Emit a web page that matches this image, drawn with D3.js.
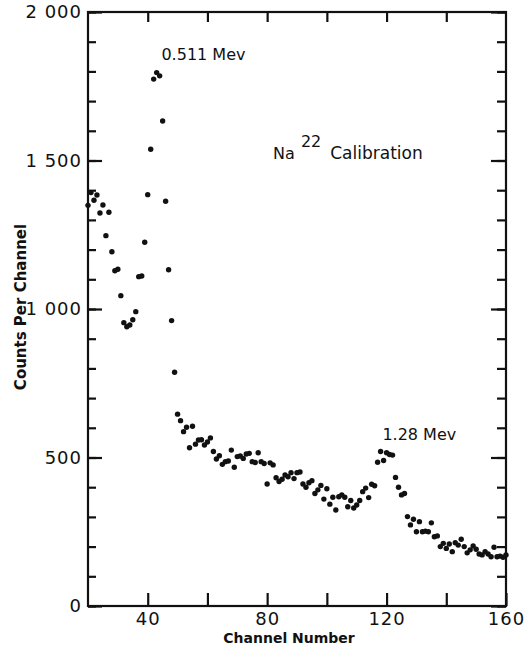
<!DOCTYPE html>
<html lang="en">
<head>
<meta charset="utf-8">
<title>Na22 Calibration</title>
<script src="https://d3js.org/d3.v7.min.js" charset="utf-8"></script>
<style>
  body { margin: 0; background: #fff; }
  text { font-family: "DejaVu Sans", sans-serif; fill: #111; }
</style>
</head>
<body>
<div id="dataviz"></div>
<script>

// channel numbers start at 20, one count per channel
var firstChannel = 20
var counts = [
  1349, 1392, 1366, 1384, 1323, 1350, 1247, 1326, 1193, 1129,
  1134, 1045, 954, 940, 946, 964, 991, 1109, 1111, 1225,
  1385, 1538, 1774, 1796, 1785, 1633, 1363, 1132, 961,
  787, 646, 624, 587, 602, 533, 605, 545, 559, 560,
  542, 552, 566, 520, 495, 506, 477, 486, 488, 525,
  467, 503, 505, 497, 512, 514, 486, 483, 516, 486, 480,
  411, 482, 475, 432,
  419, 427, 441, 435, 449, 429, 449, 451, 411, 400,
  415, 422, 379, 391, 406, 360, 395, 343, 366, 323,
  368, 374, 366, 334, 355, 330,
  340, 355, 385, 397, 365, 410, 405, 484, 520, 490,
  516, 510, 508, 433, 400, 374, 379,
  301, 273, 292, 250, 284, 250, 252, 250, 280, 233,
  236, 200, 211, 194, 209, 183, 213, 205, 225, 200,
  179, 189, 202, 191, 175, 172, 183, 175, 166, 198,
  166, 168, 164, 172
]
var channels = counts.map(function(d, i) { return firstChannel + i; })

var xTicks = [40, 60, 80, 100, 120, 140, 160]
var xLabels = [40, 80, 120, 160]
var yMajorTicks = [0, 500, 1000, 1500, 2000]

var peaks = [
  {label: "0.511 Mev", channel: 44.6, value: 1840},
  {label: "1.28 Mev", channel: 118.6, value: 560}
]

// dimensions
var margin = {top: 12, right: 22, bottom: 48, left: 88},
    width = 528 - margin.left - margin.right,
    height = 654 - margin.top - margin.bottom;

var svg = d3.select("#dataviz")
  .append("svg")
    .attr("width", 528)
    .attr("height", 654)
  .append("g")
    .attr("transform", "translate(" + margin.left + "," + margin.top + ")");

/*
=========================================== AXIS ===========================================
*/
var x = d3.scaleLinear()
  .domain([20, 160])
  .range([0, width]);

var y = d3.scaleLinear()
  .domain([0, 2000])
  .range([height, 0]);

var fmt = d3.formatLocale({decimal: ".", thousands: " ", grouping: [3], currency: ["", ""]}).format(",")

// left: minor ticks
svg.append("g")
  .attr("class", "axis")
  .call(d3.axisLeft(y).tickValues(y.ticks(20)).tickSize(-8).tickFormat(""))
// left: major ticks + labels
svg.append("g")
  .attr("class", "axis ylab")
  .call(d3.axisLeft(y).tickValues(yMajorTicks).tickSize(-14).tickPadding(6).tickFormat(fmt))

// right side
svg.append("g")
  .attr("class", "axis")
  .attr("transform", "translate(" + width + ",0)")
  .call(d3.axisRight(y).tickValues(y.ticks(20)).tickSize(-9).tickFormat(""))
svg.append("g")
  .attr("class", "axis")
  .attr("transform", "translate(" + width + ",0)")
  .call(d3.axisRight(y).tickValues(yMajorTicks).tickSize(-15).tickFormat(""))

// bottom
svg.append("g")
  .attr("class", "axis xlab")
  .attr("transform", "translate(0," + height + ")")
  .call(d3.axisBottom(x).tickValues(xTicks).tickSize(-13).tickPadding(8)
    .tickFormat(function(d) { return xLabels.indexOf(d) >= 0 ? d : ""; }))

// top
svg.append("g")
  .attr("class", "axis")
  .call(d3.axisTop(x).tickValues(xTicks.slice(0, -1)).tickSize(-10).tickFormat(""))

svg.selectAll(".axis .domain").remove()
svg.selectAll(".axis line")
  .attr("stroke", "#111")
  .attr("stroke-width", 2.2)
svg.selectAll(".axis text")
  .style("font-family", "DejaVu Sans, sans-serif")
  .style("font-size", "18px")
  .style("letter-spacing", "1px")
  .attr("fill", "#111")
svg.selectAll(".xlab text").attr("dy", "0.6em")

// frame
svg.append("rect")
  .attr("x", 0)
  .attr("y", 0)
  .attr("width", width)
  .attr("height", height)
  .attr("fill", "none")
  .attr("stroke", "#111")
  .attr("stroke-width", 2.2)

// axis titles
svg.append("text")
  .attr("transform", "translate(" + (width / 2 - 8) + "," + (height + 37) + ")")
  .style("text-anchor", "middle")
  .style("font-size", "14px")
  .style("font-weight", "bold")
  .text("Channel Number");

svg.append("text")
  .attr("transform", "rotate(-90)")
  .attr("x", -(height / 2) + 2)
  .attr("y", -margin.left + 26)
  .style("text-anchor", "middle")
  .style("font-size", "15px")
  .style("font-weight", "bold")
  .text("Counts Per Channel");

/*
=========================================== POINTS ===========================================
*/
svg.append("g")
  .selectAll("circle")
  .data(counts)
  .enter()
  .append("circle")
    .attr("cx", function(d, i) { return x(channels[i]); })
    .attr("cy", function(d) { return y(d); })
    .attr("r", 2.7)
    .attr("fill", "#111")

/*
=========================================== LABELS ===========================================
*/
svg.selectAll("peaklabels")
  .data(peaks)
  .enter()
  .append("text")
    .attr("x", function(d) { return x(d.channel); })
    .attr("y", function(d) { return y(d.value); })
    .style("font-size", "16px")
    .text(function(d) { return d.label; })

var na = svg.append("text")
  .attr("x", x(82))
  .attr("y", y(1505))
  .style("font-size", "16px")
na.append("tspan").text("Na")
na.append("tspan").attr("dy", "-12").attr("dx", "6").style("font-size", "16px").text("22")
na.append("tspan").attr("dy", "12").attr("dx", "9").style("font-size", "17px").text("Calibration")

</script>
</body>
</html>
